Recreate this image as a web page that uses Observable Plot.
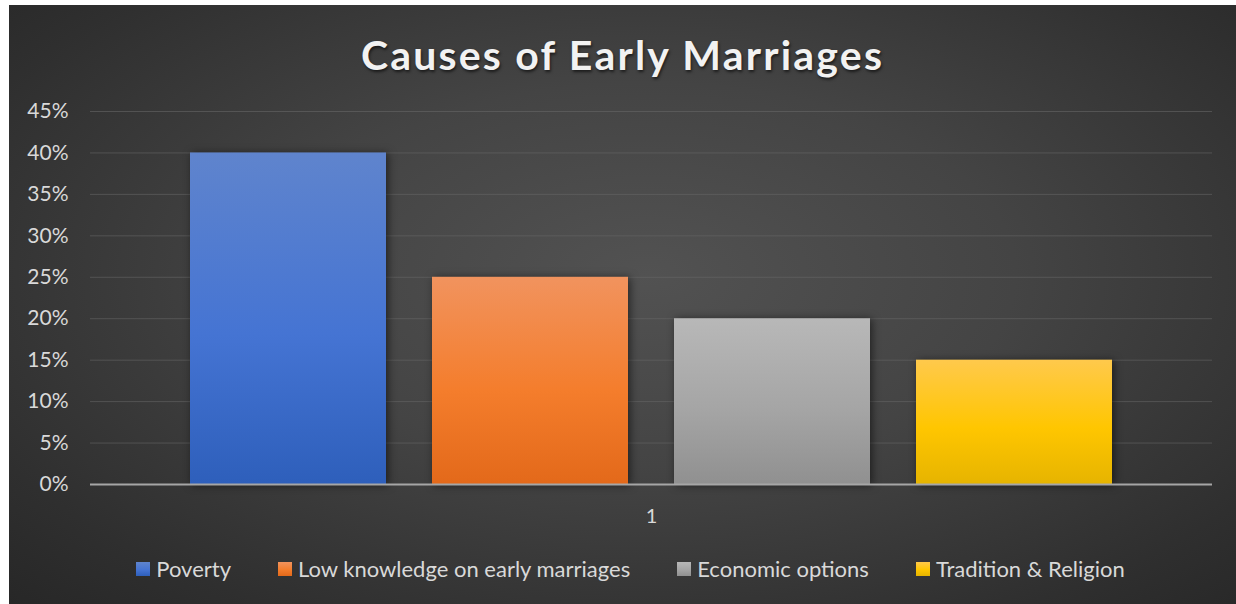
<!DOCTYPE html>
<html>
<head>
<meta charset="utf-8">
<script src="https://cdn.jsdelivr.net/npm/d3@7"></script>
<script src="https://cdn.jsdelivr.net/npm/@observablehq/plot@0.6"></script>
<style>
  html, body { margin: 0; padding: 0; background: #ffffff; }
  body { width: 1236px; height: 604px; position: relative; overflow: hidden; font-family: Lato, "Open Sans", sans-serif; }
  #frame {
    position: absolute; left: 9px; top: 5px; width: 1227px; height: 599px;
    background: radial-gradient(ellipse 75% 80% at 52% 45%, #525252 0%, #444444 40%, #2f2f2f 80%, #262626 100%);
    overflow: hidden;
  }
  #title {
    position: absolute; left: 0; width: 100%; top: 25px; text-align: center;
    font-family: Lato, sans-serif; font-weight: 700; font-size: 41px; letter-spacing: 2.2px;
    color: #f2f2f2; text-shadow: 1px 2px 3px rgba(0,0,0,0.6);
  }
  #chart { position: absolute; left: 0; top: 95px; }
  #legend {
    position: absolute; left: 0; width: 100%; top: 550px; display: flex; justify-content: center;
    gap: 47px; font-size: 22px; color: #d9d9d9; margin-left: 8px;
  }
  .item { display: flex; align-items: center; gap: 6px; }
  .sw { width: 14px; height: 14px; display: inline-block; }
</style>
</head>
<body>
<div id="frame">
  <div id="title">Causes of Early Marriages</div>
  <div id="chart"></div>
  <div id="legend"></div>
</div>
<script>
const categories = ["Poverty", "Low knowledge on early marriages", "Economic options", "Tradition & Religion"];
const values = [0.40, 0.25, 0.20, 0.15];
const group = ["1", "1", "1", "1"];
const yTicks = [0, 0.05, 0.10, 0.15, 0.20, 0.25, 0.30, 0.35, 0.40, 0.45];
const gradients = [
  ["#5f84cd", "#4574d3", "#2e5fbb"],
  ["#f1935e", "#f47d2c", "#e3691a"],
  ["#b8b8b8", "#a5a5a5", "#909090"],
  ["#ffc94c", "#ffc600", "#e6b400"]
];
const gradIds = ["gPov", "gLow", "gEco", "gTra"];

const data = categories.map((c, i) => ({category: c, value: values[i], group: group[i]}));

const plot = Plot.plot({
  width: 1227,
  height: 430,
  marginLeft: 81,
  marginRight: 24,
  marginTop: 11,
  marginBottom: 46,
  style: {background: "transparent", color: "#d9d9d9", fontFamily: "Lato, sans-serif", fontSize: "21px", overflow: "visible"},
  fx: {domain: ["1"], padding: 0, label: null, axis: "bottom", tickSize: 0, tickPadding: 24},
  x: {domain: categories, paddingInner: 0.19, paddingOuter: 0.404, axis: null},
  y: {domain: [0, 0.45], ticks: yTicks, tickFormat: d => Math.round(d * 100) + "%", label: null, tickSize: 0, tickPadding: 22},
  color: {domain: categories, range: gradIds.map(id => `url(#${id})`)},
  marks: [
    Plot.gridY(yTicks.filter(d => d > 0), {stroke: "#6a6a6a", strokeOpacity: 0.55, strokeWidth: 1}),
    Plot.barY(data, {fx: "group", x: "category", y: "value", fill: "category"}),
    Plot.ruleY([0], {stroke: "#a6a6a6", strokeWidth: 2})
  ]
});

// gradients for bars
const svg = d3.select(plot);
const defs = svg.insert("defs", ":first-child");
gradIds.forEach((id, i) => {
  const g = defs.append("linearGradient").attr("id", id).attr("x1", 0).attr("y1", 0).attr("x2", 0).attr("y2", 1);
  g.append("stop").attr("offset", "0%").attr("stop-color", gradients[i][0]);
  g.append("stop").attr("offset", "55%").attr("stop-color", gradients[i][1]);
  g.append("stop").attr("offset", "100%").attr("stop-color", gradients[i][2]);
});
svg.selectAll("[aria-label='bar'] rect").style("filter", "drop-shadow(2px 1px 4px rgba(0,0,0,0.55))");
svg.selectAll("[aria-label='fx-axis tick label']").style("font-size", "20px");
document.getElementById("chart").appendChild(plot);

// legend
const legend = d3.select("#legend");
categories.forEach((c, i) => {
  const it = legend.append("div").attr("class", "item");
  it.append("span").attr("class", "sw")
    .style("background", `linear-gradient(to bottom, ${gradients[i][0]}, ${gradients[i][1]} 55%, ${gradients[i][2]})`);
  it.append("span").text(c);
});
</script>
</body>
</html>
